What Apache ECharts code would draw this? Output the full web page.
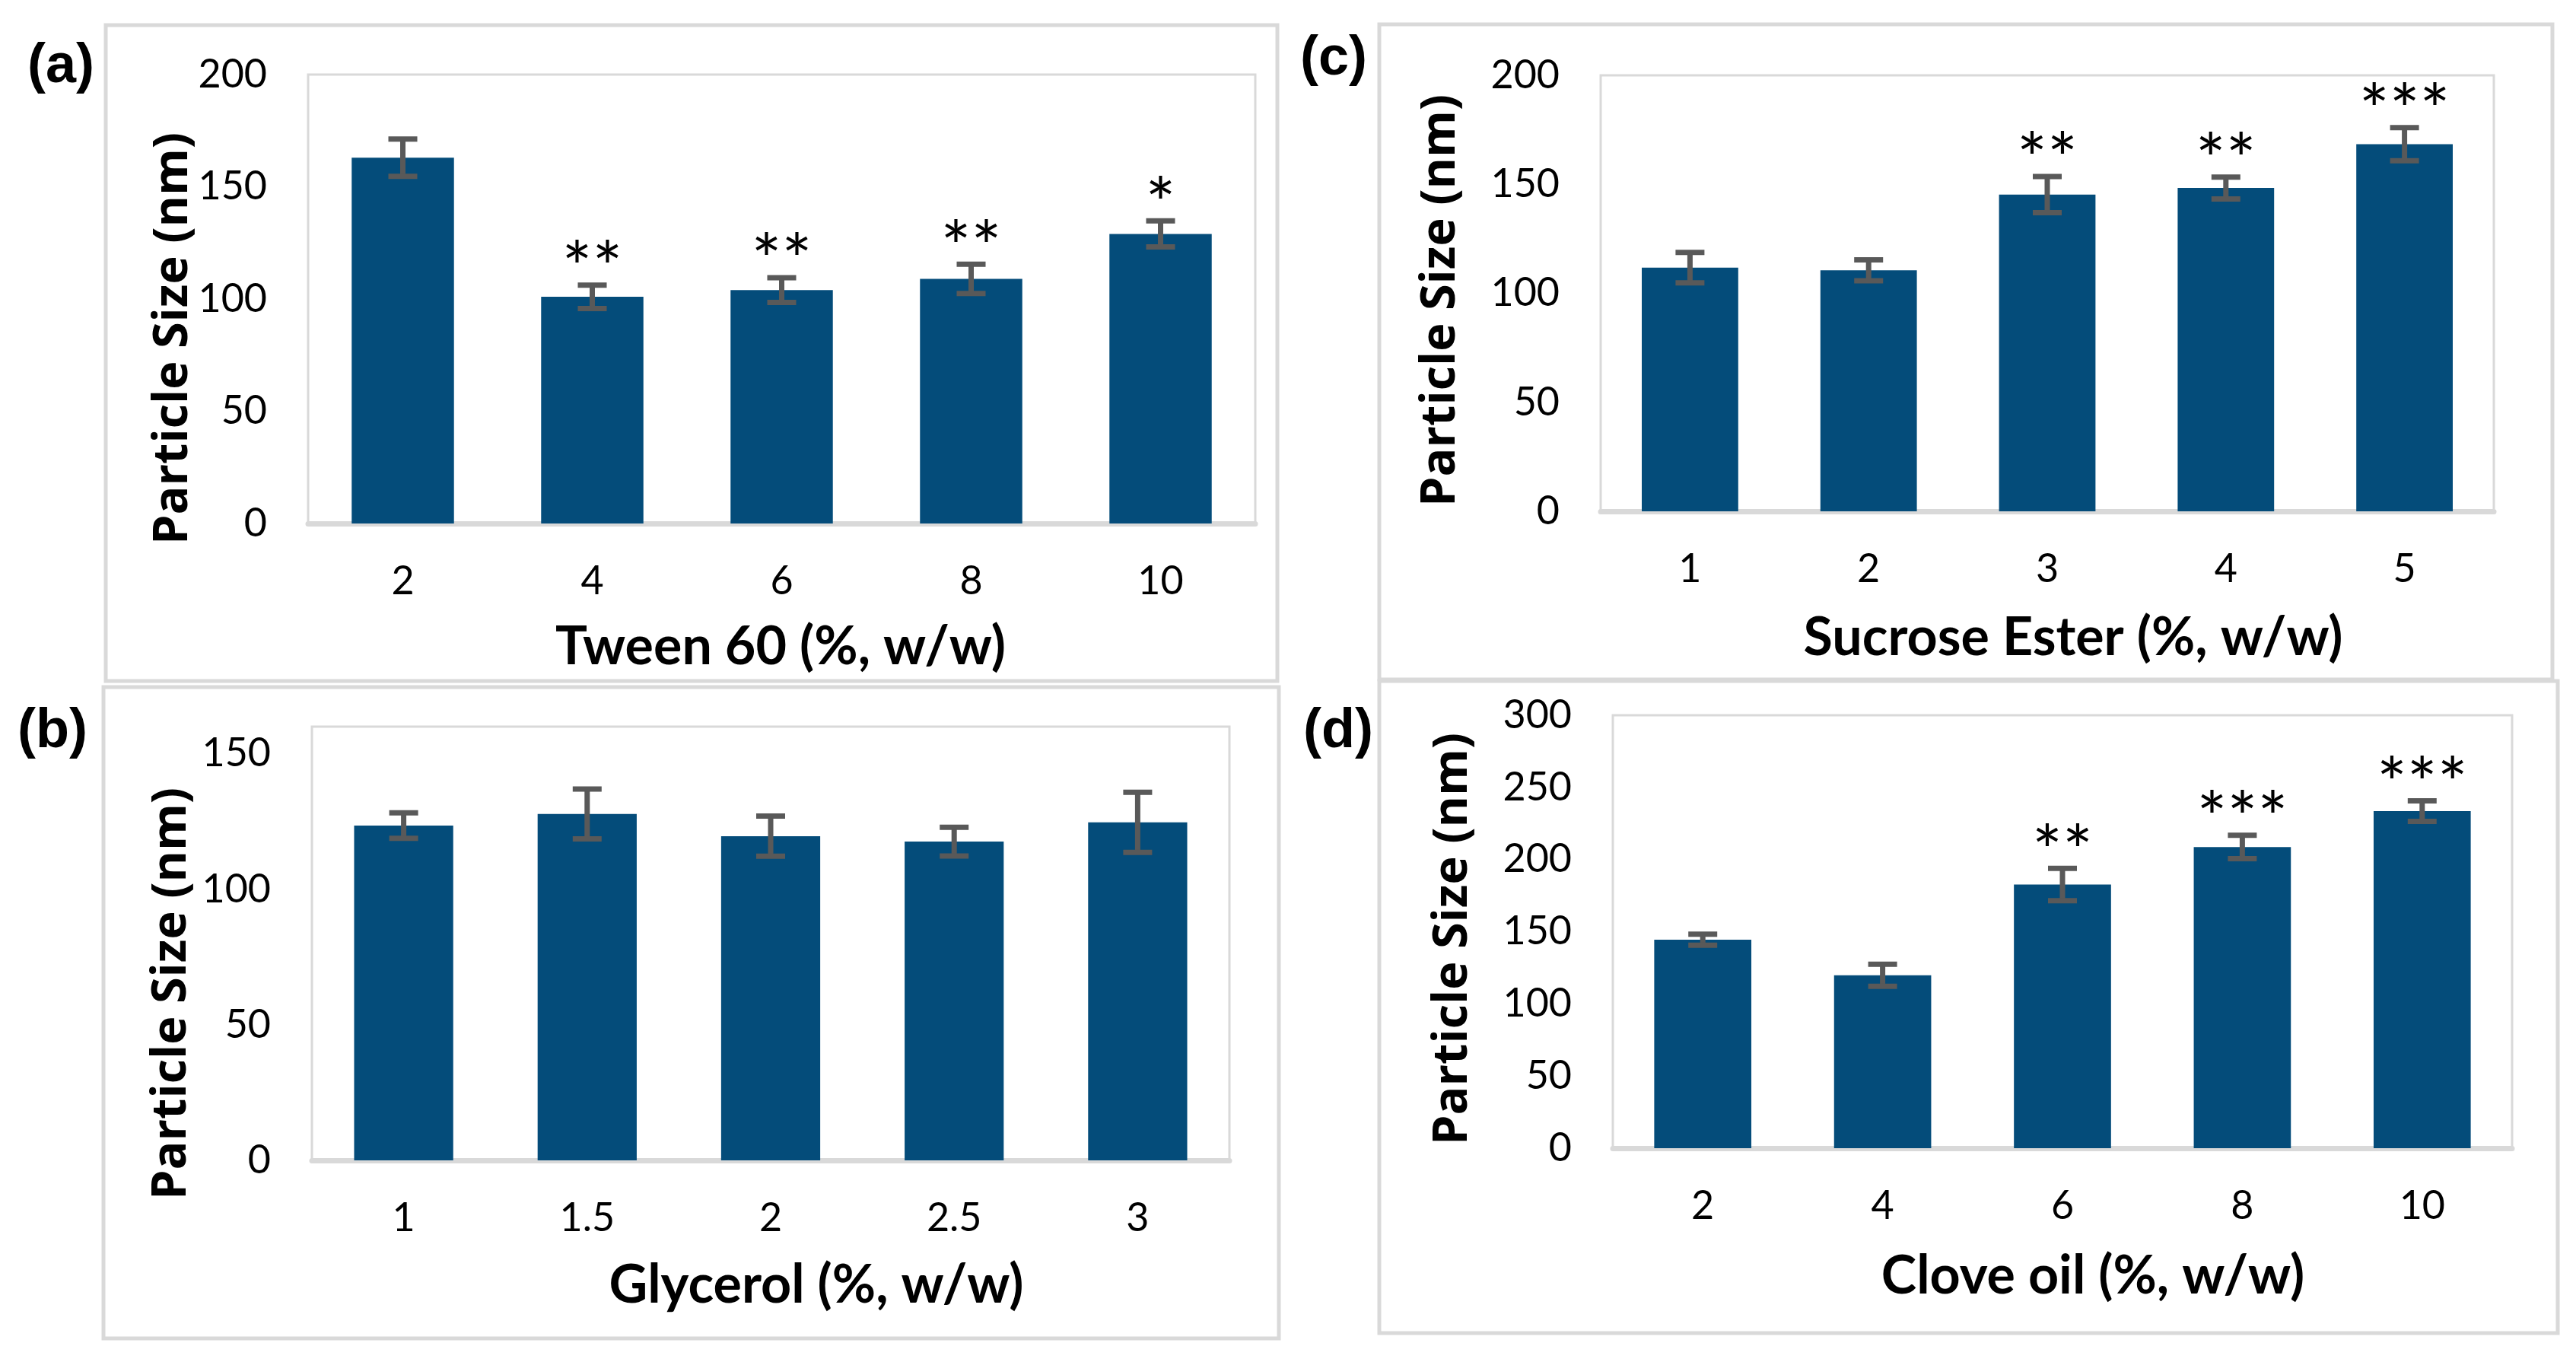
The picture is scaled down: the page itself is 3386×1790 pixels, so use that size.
<!DOCTYPE html>
<html>
<head>
<meta charset="utf-8">
<script src="https://cdn.jsdelivr.net/npm/echarts@6/dist/echarts.min.js"></script>
<style>
html,body{margin:0;padding:0;background:#fff;}
#chart{width:3386px;height:1790px;}
</style>
</head>
<body>
<div id="chart"></div>
<script>
// ---- data ----
const catsA = ['2', '4', '6', '8', '10'];
const valsA = [163, 101, 104, 109, 129];
const errA = [8.3, 5.2, 5.5, 6.5, 5.8];
const starsA = ['', '**', '**', '**', '*'];

const catsB = ['1', '1.5', '2', '2.5', '3'];
const valsB = [123.5, 127.8, 119.6, 117.6, 124.7];
const errB = [4.7, 9.2, 7.4, 5.3, 11.1];
const starsB = ['', '', '', '', ''];

const catsC = ['1', '2', '3', '4', '5'];
const valsC = [111.8, 110.6, 145.3, 148.3, 168.4];
const errC = [7.0, 4.8, 8.3, 5.0, 7.6];
const starsC = ['', '', '**', '**', '***'];

const catsD = ['2', '4', '6', '8', '10'];
const valsD = [144.5, 119.8, 182.7, 208.7, 233.6];
const errD = [3.8, 7.6, 11.2, 8.1, 7.1];
const starsD = ['', '', '**', '***', '***'];

const yMaxA = 200, yMaxB = 160, yMaxC = 200, yMaxD = 300;
const xTitleA = 'Tween 60 (%, w/w)';
const xTitleB = 'Glycerol (%, w/w)';
const xTitleC = 'Sucrose Ester (%, w/w)';
const xTitleD = 'Clove oil (%, w/w)';
const yTitle = 'Particle Size (nm)';

// ---- styles ----
const BAR = '#044c7a';
const ERR = '#595959';
const GRAY = '#d9d9d9';
const TICK_FONT = 'Lato';

const panels = [
  {cats: catsA, vals: valsA, errs: errA, stars: starsA, max: yMaxA,
   grid: {left: 405, top: 98, width: 1245, height: 590}},
  {cats: catsB, vals: valsB, errs: errB, stars: starsB, max: yMaxB,
   grid: {left: 410, top: 955, width: 1206, height: 570}},
  {cats: catsC, vals: valsC, errs: errC, stars: starsC, max: yMaxC,
   grid: {left: 2104, top: 99, width: 1174, height: 573}},
  {cats: catsD, vals: valsD, errs: errD, stars: starsD, max: yMaxD,
   grid: {left: 2120, top: 940, width: 1182, height: 569}}
];

const grid = [], xAxis = [], yAxis = [], series = [];
panels.forEach((p, i) => {
  grid.push(Object.assign({show: true, borderColor: GRAY, borderWidth: 3, backgroundColor: '#fff'}, p.grid));
  xAxis.push({
    type: 'category', gridIndex: i, data: p.cats,
    axisTick: {show: false},
    axisLine: {show: true, lineStyle: {color: GRAY, width: 7}},
    axisLabel: {margin: 50, fontSize: 52, fontFamily: TICK_FONT, color: '#000'}
  });
  yAxis.push({
    type: 'value', gridIndex: i, min: 0, max: p.max, interval: 50,
    splitLine: {show: false}, axisLine: {show: false}, axisTick: {show: false},
    axisLabel: {margin: 54, fontSize: 52, fontFamily: TICK_FONT, color: '#000'}
  });
  series.push({
    type: 'bar', xAxisIndex: i, yAxisIndex: i, data: p.vals,
    barWidth: '54%', itemStyle: {color: BAR}, silent: true, z: 2
  });
  series.push({
    type: 'custom', xAxisIndex: i, yAxisIndex: i, z: 5, silent: true,
    data: p.vals.map((v, k) => [k, v - p.errs[k], v + p.errs[k], p.stars[k]]),
    renderItem: function (params, api) {
      const idx = api.value(0);
      const lo = api.coord([idx, api.value(1)]);
      const hi = api.coord([idx, api.value(2)]);
      const star = p.stars[idx];
      const half = 19;
      const children = [
        {type: 'line', shape: {x1: hi[0], y1: hi[1], x2: lo[0], y2: lo[1]}, style: {stroke: ERR, lineWidth: 7}},
        {type: 'line', shape: {x1: hi[0] - half, y1: hi[1], x2: hi[0] + half, y2: hi[1]}, style: {stroke: ERR, lineWidth: 7}},
        {type: 'line', shape: {x1: lo[0] - half, y1: lo[1], x2: lo[0] + half, y2: lo[1]}, style: {stroke: ERR, lineWidth: 7}}
      ];
      if (star) {
        children.push({type: 'text', x: hi[0], y: hi[1] - 20,
          style: {text: star, fill: '#000', fontSize: 94, fontFamily: TICK_FONT,
                  align: 'center', verticalAlign: 'middle'}});
      }
      return {type: 'group', children: children};
    }
  });
});

function box(x, y, w, h) {
  return {type: 'rect', shape: {x: x, y: y, width: w, height: h},
          style: {fill: 'none', stroke: GRAY, lineWidth: 5}, silent: true, z: 0};
}
function label(t, x, y) {
  return {type: 'text', x: x, y: y, silent: true,
          style: {text: t, fontSize: 72, fontWeight: 'bold', fontFamily: 'Liberation Sans',
                  fill: '#000', align: 'center', verticalAlign: 'middle'}};
}
function xTitle(t, x, y) {
  return {type: 'text', x: x, y: y, silent: true,
          style: {text: t, fontSize: 70, fontWeight: 'bold', fontFamily: 'Lato',
                  fill: '#000', align: 'center', verticalAlign: 'middle'}};
}
function yTitleEl(t, x, y) {
  return {type: 'text', x: x, y: y, rotation: Math.PI / 2, silent: true,
          style: {text: t, fontSize: 63, fontWeight: 'bold', fontFamily: 'Open Sans',
                  fill: '#000', align: 'center', verticalAlign: 'middle'}};
}

const graphic = [
  box(139, 33, 1540, 862),
  box(136, 903, 1545, 856),
  box(1813, 32, 1542, 861),
  box(1813, 895, 1549, 857),
  label('(a)', 80, 88),
  label('(b)', 69, 962),
  label('(c)', 1753, 78),
  label('(d)', 1759, 962),
  xTitle(xTitleA, 1026, 850),
  xTitle(xTitleB, 1073, 1689),
  xTitle(xTitleC, 2725, 838),
  xTitle(xTitleD, 2751, 1677),
  yTitleEl(yTitle, 228, 445),
  yTitleEl(yTitle, 226, 1306),
  yTitleEl(yTitle, 1894, 395),
  yTitleEl(yTitle, 1910, 1234)
];

const chart = echarts.init(document.getElementById('chart'), null, {renderer: 'canvas'});
chart.setOption({
  animation: false,
  backgroundColor: '#fff',
  grid: grid, xAxis: xAxis, yAxis: yAxis, series: series, graphic: graphic
});
</script>
</body>
</html>
